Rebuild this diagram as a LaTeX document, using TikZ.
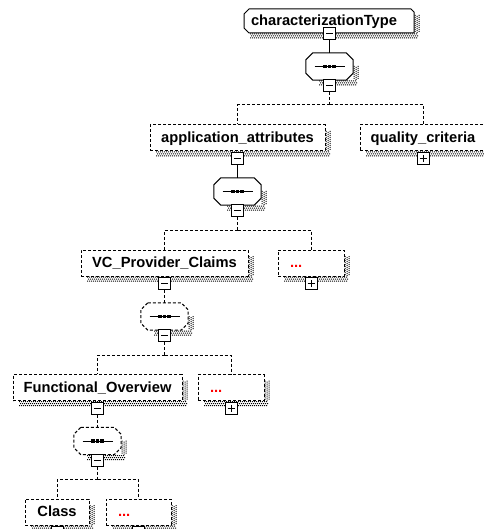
\documentclass[tikz,border=0pt]{standalone}
\usepackage{fontspec}
\setmainfont{Liberation Sans}
\usetikzlibrary{calc}

\colorlet{dotred}{red}

\tikzset{
  solidline/.style={line width=1pt},
  dashline/.style={line width=1pt, dash pattern=on 3pt off 2pt},
  labelfont/.style={font=\fontsize{14.7}{16}\selectfont\bfseries},
  elembox/.style={rectangle, draw, dashline, fill=white, inner sep=0pt,
    minimum height=26pt, text height=9.5pt, text depth=0pt, labelfont},
  morebox/.style={elembox, text=dotred, align=left, inner xsep=12pt,
    text width=#1-24pt, minimum width=#1},
  seqnode/.style={rectangle, inner sep=0pt, minimum width=47pt, minimum height=27pt},
  togglebox/.style={rectangle, draw, solidline, fill=white, minimum size=12pt, inner sep=0pt},
}

% stippled drop shadow along the right and lower side of a box
% #1,#2 = top-left corner, #3,#4 = bottom-right corner
\newcommand\dotshadow[4]{%
  \pgfmathtruncatemacro\shw{#3-#1+3}%
  \pgfmathtruncatemacro\shh{#4-#2-1}%
  \foreach \shY/\shO in {0/0,2/1,4/0}{
    \fill \foreach \shX in {6,8,...,\shw}{(#1+\shX+\shO,#4+\shY+0.5) rectangle ++(1,1)};
  }
  \foreach \shX/\shO in {0/0,2/1,4/0}{
    \fill \foreach \shY in {6,8,...,\shh}{(#3+\shX+0.5,#2+\shY+\shO) rectangle ++(1,1)};
  }}

% octagon around a (text-free) node: #1 path options, #2 node name, #3 chamfer
\newcommand\drawoct[3]{%
  \path[#1] ($(#2.north west)+(#3,0)$) -- ($(#2.north east)+(-#3,0)$)
    -- ($(#2.north east)+(0,#3)$) -- ($(#2.south east)+(0,-#3)$)
    -- ($(#2.south east)+(-#3,0)$) -- ($(#2.south west)+(#3,0)$)
    -- ($(#2.south west)+(0,-#3)$) -- ($(#2.north west)+(0,#3)$) -- cycle;}

% sequence compositor: frame and the dotted bar symbol
\newcommand\seqsymbol[2]{%
  \drawoct{draw, fill=white, line width=1pt, #2}{#1}{7}
  \draw[line width=1pt] ($(#1.center)+(-15,0)$) -- ($(#1.center)+(15,0)$);
  \foreach \d in {-4.5,0,4.5}
    \fill ($(#1.center)+(\d-1.75,-1.75)$) rectangle +(3.5,3.5);}

% expand/collapse toggles
\newcommand\minussign[1]{%
  \draw[line width=1pt] ($(#1.center)+(-3.5,0)$) -- ($(#1.center)+(3.5,0)$);}
\newcommand\plussign[1]{%
  \minussign{#1}
  \draw[line width=1pt] ($(#1.center)+(0,-3.5)$) -- ($(#1.center)+(0,3.5)$);}

\begin{document}
\begin{tikzpicture}[x=1pt,y=-1pt]
\fill[white] (0,0) rectangle (483,529);
\useasboundingbox (0,0) rectangle (483,529);

% ---- root type: shadow, frame with cut corners, then its name ----
\dotshadow{244}{9}{414}{33}
\path[draw, fill=white, line width=1pt]
  (249,9) -- (411,9) -- (414,12) -- (414,33) -- (249,33) -- (244,28) -- (244,14) -- cycle;
\node[rectangle, inner sep=0pt, minimum width=170pt, minimum height=24pt,
      text height=9.5pt, text depth=0pt, labelfont] (root) at (329,21)
      {characterizationType\hspace*{10pt}};
\dotshadow{313}{60}{353}{80}
\node[seqnode] (s1) at (329.5,66.5) {};
\seqsymbol{s1}{}
\node[togglebox] (m0) at (329.5,33.5) {};
\minussign{m0}
\node[togglebox] (sm1) at (329.5,85.5) {};
\minussign{sm1}
\coordinate (j1) at (329.5,105);
\draw[solidline] (m0.south) -- (s1.north);

% ---- level 1 ----
\dotshadow{150}{125}{325}{151}
\dotshadow{360}{125}{486}{151}
\node[elembox, minimum width=175pt] (app) at (237.5,138) {application\_attributes};
\node[elembox, minimum width=126pt] (qual) at (423,138) {quality\_criteria};
\draw[dashline] (sm1.south) -- (j1);
\draw[dashline] (j1) -| (app.north);
\draw[dashline] (j1) -| (qual.north);
\node[togglebox] (pq) at (423,158.5) {};
\plussign{pq}
\dotshadow{221}{185}{261}{205}
\node[seqnode] (s2) at (237.5,191.5) {};
\seqsymbol{s2}{}
\node[togglebox] (ma) at (237.5,158.5) {};
\minussign{ma}
\draw[solidline] (ma.south) -- (s2.north);
\node[togglebox] (sm2) at (237.5,210.5) {};
\minussign{sm2}
\coordinate (j2) at (237.5,230);

% ---- level 2 ----
\dotshadow{81}{250}{248}{276}
\dotshadow{278}{250}{344}{276}
\node[elembox, minimum width=167pt] (vc) at (164.5,263) {VC\_Provider\_Claims};
\node[morebox=66pt] (d2) at (311,263) {...};
\draw[dashline] (sm2.south) -- (j2);
\draw[dashline] (j2) -| (vc.north);
\draw[dashline] (j2) -| (d2.north);
\node[togglebox] (pd2) at (311,283.5) {};
\plussign{pd2}
\dotshadow{148}{310}{188}{330}
\node[seqnode] (s3) at (164.5,316.5) {};
\seqsymbol{s3}{dashline}
\node[togglebox] (mv) at (164.5,283.5) {};
\minussign{mv}
\draw[dashline] (mv.south) -- (s3.north);
\node[togglebox] (sm3) at (164.5,335.5) {};
\minussign{sm3}
\coordinate (j3) at (164.5,355);

% ---- level 3 ----
\dotshadow{13}{374.5}{182}{400.5}
\dotshadow{198}{374.5}{264}{400.5}
\node[elembox, minimum width=169pt] (fo) at (97.5,387.5) {Functional\_Overview};
\node[morebox=66pt] (d3) at (231,387.5) {...};
\draw[dashline] (sm3.south) -- (j3);
\draw[dashline] (j3) -| (fo.north);
\draw[dashline] (j3) -| (d3.north);
\node[togglebox] (pd3) at (231,408) {};
\plussign{pd3}
\dotshadow{81}{434.5}{121}{454.5}
\node[seqnode] (s4) at (97.5,441) {};
\seqsymbol{s4}{dashline}
\node[togglebox] (mf) at (97.5,408) {};
\minussign{mf}
\draw[dashline] (mf.south) -- (s4.north);
\node[togglebox] (sm4) at (97.5,460) {};
\minussign{sm4}
\coordinate (j4) at (97.5,479.5);

% ---- level 4 ----
\dotshadow{25}{499}{89}{525}
\dotshadow{106}{499}{171}{525}
\node[elembox, minimum width=64pt] (cls) at (57,512) {Class};
\node[morebox=65pt] (d4) at (138.5,512) {...};
\draw[dashline] (sm4.south) -- (j4);
\draw[dashline] (j4) -| (cls.north);
\draw[dashline] (j4) -| (d4.north);
\node[togglebox] (pc) at (57,532.5) {};
\plussign{pc}
\node[togglebox] (pd4) at (138.5,532.5) {};
\plussign{pd4}
\end{tikzpicture}
\end{document}
